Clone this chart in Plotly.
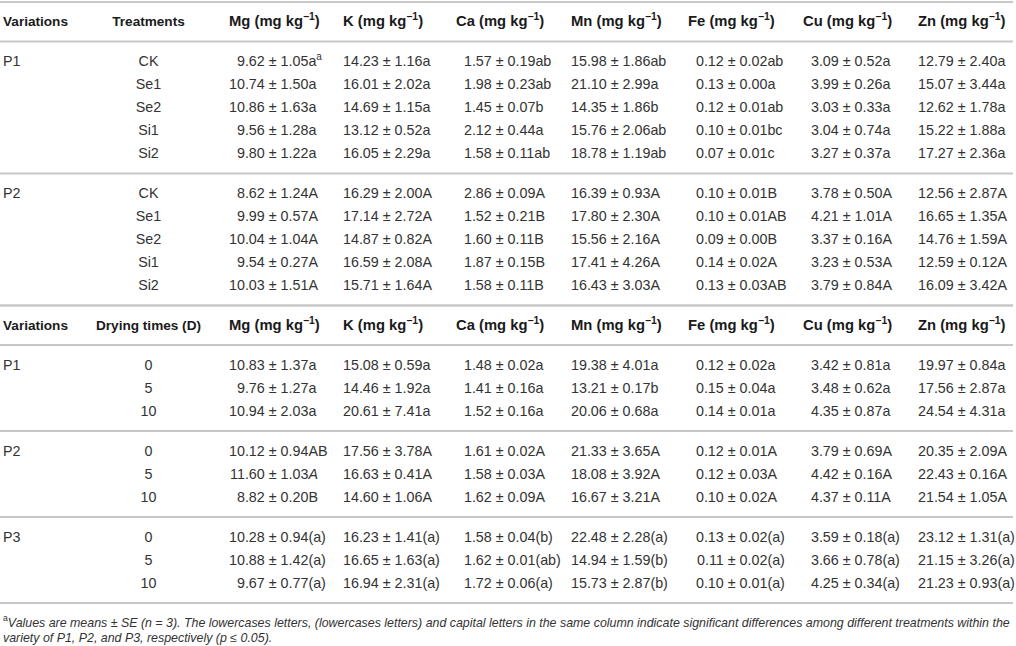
from __future__ import annotations

import plotly.graph_objects as go

# row labels
TREATMENT_VARIETIES = ['P1', 'P2']
TREATMENTS = ['CK', 'Se1', 'Se2', 'Si1', 'Si2']
DRYING_VARIETIES = ['P1', 'P2', 'P3']
DRYING_TIMES = ['0', '5', '10']
NUTRIENTS = ['Mg', 'K', 'Ca', 'Mn', 'Fe', 'Cu', 'Zn']

# treatment block, P1 rows then P2 rows
mg_treat = ['9.62 ± 1.05a<sup>a</sup>', '10.74 ± 1.50a', '10.86 ± 1.63a', '9.56 ± 1.28a', '9.80 ± 1.22a',
            '8.62 ± 1.24A', '9.99 ± 0.57A', '10.04 ± 1.04A', '9.54 ± 0.27A', '10.03 ± 1.51A']
k_treat = ['14.23 ± 1.16a', '16.01 ± 2.02a', '14.69 ± 1.15a', '13.12 ± 0.52a', '16.05 ± 2.29a',
           '16.29 ± 2.00A', '17.14 ± 2.72A', '14.87 ± 0.82A', '16.59 ± 2.08A', '15.71 ± 1.64A']
ca_treat = ['1.57 ± 0.19ab', '1.98 ± 0.23ab', '1.45 ± 0.07b', '2.12 ± 0.44a', '1.58 ± 0.11ab',
            '2.86 ± 0.09A', '1.52 ± 0.21B', '1.60 ± 0.11B', '1.87 ± 0.15B', '1.58 ± 0.11B']
mn_treat = ['15.98 ± 1.86ab', '21.10 ± 2.99a', '14.35 ± 1.86b', '15.76 ± 2.06ab', '18.78 ± 1.19ab',
            '16.39 ± 0.93A', '17.80 ± 2.30A', '15.56 ± 2.16A', '17.41 ± 4.26A', '16.43 ± 3.03A']
fe_treat = ['0.12 ± 0.02ab', '0.13 ± 0.00a', '0.12 ± 0.01ab', '0.10 ± 0.01bc', '0.07 ± 0.01c',
            '0.10 ± 0.01B', '0.10 ± 0.01AB', '0.09 ± 0.00B', '0.14 ± 0.02A', '0.13 ± 0.03AB']
cu_treat = ['3.09 ± 0.52a', '3.99 ± 0.26a', '3.03 ± 0.33a', '3.04 ± 0.74a', '3.27 ± 0.37a',
            '3.78 ± 0.50A', '4.21 ± 1.01A', '3.37 ± 0.16A', '3.23 ± 0.53A', '3.79 ± 0.84A']
zn_treat = ['12.79 ± 2.40a', '15.07 ± 3.44a', '12.62 ± 1.78a', '15.22 ± 1.88a', '17.27 ± 2.36a',
            '12.56 ± 2.87A', '16.65 ± 1.35A', '14.76 ± 1.59A', '12.59 ± 0.12A', '16.09 ± 3.42A']

# drying block, P1, P2, P3 rows
mg_dry = ['10.83 ± 1.37a', '9.76 ± 1.27a', '10.94 ± 2.03a',
          '10.12 ± 0.94AB', '11.60 ± 1.03<i>A</i>', '8.82 ± 0.20B',
          '10.28 ± 0.94(a)', '10.88 ± 1.42(a)', '9.67 ± 0.77(a)']
k_dry = ['15.08 ± 0.59a', '14.46 ± 1.92a', '20.61 ± 7.41a',
         '17.56 ± 3.78A', '16.63 ± 0.41A', '14.60 ± 1.06A',
         '16.23 ± 1.41(a)', '16.65 ± 1.63(a)', '16.94 ± 2.31(a)']
ca_dry = ['1.48 ± 0.02a', '1.41 ± 0.16a', '1.52 ± 0.16a',
          '1.61 ± 0.02A', '1.58 ± 0.03A', '1.62 ± 0.09A',
          '1.58 ± 0.04(b)', '1.62 ± 0.01(ab)', '1.72 ± 0.06(a)']
mn_dry = ['19.38 ± 4.01a', '13.21 ± 0.17b', '20.06 ± 0.68a',
          '21.33 ± 3.65A', '18.08 ± 3.92A', '16.67 ± 3.21A',
          '22.48 ± 2.28(a)', '14.94 ± 1.59(b)', '15.73 ± 2.87(b)']
fe_dry = ['0.12 ± 0.02a', '0.15 ± 0.04a', '0.14 ± 0.01a',
          '0.12 ± 0.01A', '0.12 ± 0.03A', '0.10 ± 0.02A',
          '0.13 ± 0.02(a)', '0.11 ± 0.02(a)', '0.10 ± 0.01(a)']
cu_dry = ['3.42 ± 0.81a', '3.48 ± 0.62a', '4.35 ± 0.87a',
          '3.79 ± 0.69A', '4.42 ± 0.16A', '4.37 ± 0.11A',
          '3.59 ± 0.18(a)', '3.66 ± 0.78(a)', '4.25 ± 0.34(a)']
zn_dry = ['19.97 ± 0.84a', '17.56 ± 2.87a', '24.54 ± 4.31a',
          '20.35 ± 2.09A', '22.43 ± 0.16A', '21.54 ± 1.05A',
          '23.12 ± 1.31(a)', '21.15 ± 3.26(a)', '21.23 ± 0.93(a)']

FOOTNOTE = [
    '<sup>a</sup><i>Values are means ± SE (n = 3). The lowercases letters, (lowercases letters) and capital '
    'letters in the same column indicate significant differences among different treatments within the</i>',
    '<i>variety of P1, P2, and P3, respectively (p ≤ 0.05).</i>',
]

# styling
WIDTH, HEIGHT = 1016, 646
FONT = 'Liberation Sans, Arial, Helvetica, sans-serif'
BODY_SIZE = 14.3
HEAD_SIZE = 13.6
UNIT_HEAD_SIZE = 14.8
NOTE_SIZE = 12.4
TEXT_COLOR = '#333333'
HEAD_COLOR = '#1a1a1a'
RULE_COLOR = '#c8c8c8'
HEADER_H = 39.5
PAD = 20
ROW_SP = 23
TEXT_DY = 1.0
VARIETY_X = 3
LEVEL_X = 148.5
COL_X = {'Mg': 229, 'K': 343, 'Ca': 456, 'Mn': 571, 'Fe': 688, 'Cu': 803, 'Zn': 918}
DEC_W = 2.502 * BODY_SIZE  # width of '00.00'


def block_layout(top: float, n_groups: int, n_rows: int):
    header_y = top + HEADER_H / 2
    rules = [top, top + HEADER_H]
    centers = []
    y = top + HEADER_H
    for g in range(n_groups):
        for r in range(n_rows):
            centers.append(y + PAD + r * ROW_SP)
        y = y + 2 * PAD + (n_rows - 1) * ROW_SP
        rules.append(y)
    return header_y, centers, rules, y


def text_trace(x, y, text, position, size=BODY_SIZE, color=TEXT_COLOR) -> go.Scatter:
    if not isinstance(x, list):
        x = [x] * len(y)
    return go.Scatter(
        x=x,
        y=[v + TEXT_DY for v in y],
        text=text,
        mode='text',
        textposition=position,
        textfont=dict(family=FONT, size=size, color=color),
        hoverinfo='skip',
        showlegend=False,
        cliponaxis=False,
    )


def add_block(fig, top, level_name, varieties, levels, columns):
    header_y, centers, rules, bottom = block_layout(top, len(varieties), len(levels))

    # header row
    fig.add_trace(
        text_trace([VARIETY_X, LEVEL_X], [header_y] * 2,
                   ['<b>Variations</b>', '<b>' + level_name + '</b>'],
                   ['middle right', 'middle center'], size=HEAD_SIZE, color=HEAD_COLOR)
    )
    fig.add_trace(
        text_trace([COL_X[n] for n in NUTRIENTS], [header_y] * len(NUTRIENTS),
                   ['<b>' + n + ' (mg kg<sup>−1</sup>)</b>' for n in NUTRIENTS],
                   'middle right', size=UNIT_HEAD_SIZE, color=HEAD_COLOR)
    )

    # row labels: variety only on the first row of its group
    n = len(levels)
    fig.add_trace(text_trace(VARIETY_X, centers[::n], varieties, 'middle right'))
    fig.add_trace(text_trace(LEVEL_X, centers, levels * len(varieties), 'middle center'))

    # values, aligned on the first decimal number
    for name, values in zip(NUTRIENTS, columns):
        means = [v.split(' ± ')[0] for v in values]
        rests = ['\u00a0± ' + v.split(' ± ')[1] for v in values]
        x = COL_X[name] + DEC_W
        fig.add_trace(text_trace(x, centers, means, 'middle left'))
        fig.add_trace(text_trace(x, centers, rests, 'middle right'))

    for r in rules:
        fig.add_shape(
            type='line', xref='x', yref='y', x0=0, x1=1013, y0=r, y1=r,
            line=dict(color=RULE_COLOR, width=2),
        )
    return bottom


fig = go.Figure()

bottom = add_block(
    fig, 2, 'Treatments', TREATMENT_VARIETIES, TREATMENTS,
    [mg_treat, k_treat, ca_treat, mn_treat, fe_treat, cu_treat, zn_treat],
)
bottom = add_block(
    fig, bottom, 'Drying times (D)', DRYING_VARIETIES, DRYING_TIMES,
    [mg_dry, k_dry, ca_dry, mn_dry, fe_dry, cu_dry, zn_dry],
)

# footnote
note_y = [bottom + 19.5 + i * 15 for i in range(len(FOOTNOTE))]
fig.add_trace(text_trace(VARIETY_X, note_y, FOOTNOTE, 'middle right', size=NOTE_SIZE))

fig.update_layout(
    width=WIDTH,
    height=HEIGHT,
    margin=dict(t=0, b=0, l=0, r=0, pad=0),
    paper_bgcolor='white',
    plot_bgcolor='white',
    hovermode=False,
    xaxis=dict(range=[0, WIDTH], visible=False, fixedrange=True),
    yaxis=dict(range=[HEIGHT, 0], visible=False, fixedrange=True),
)

fig.write_html(
    'out.html',
    config={'displayModeBar': False},
    post_script="document.body.style.margin='0';document.body.style.overflow='hidden';",
)
